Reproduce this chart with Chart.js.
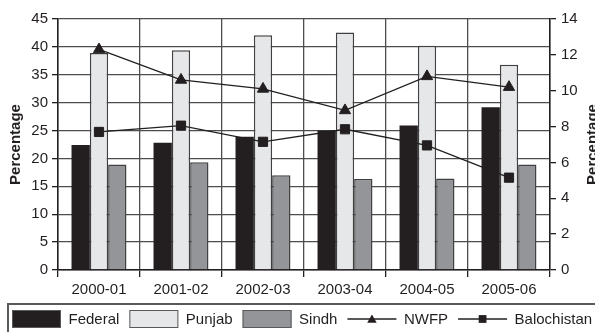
<!DOCTYPE html>
<html>
<head>
<meta charset="utf-8">
<script src="https://cdn.jsdelivr.net/npm/chart.js@4"></script>
<style>
  body { margin: 0; background: #fff; }
  #wrap { width: 595px; height: 332px; position: relative; }
</style>
</head>
<body>
<div id="wrap"><canvas id="chart"></canvas></div>
<script>
// Datos
const years = ['2000-01', '2001-02', '2002-03', '2003-04', '2004-05', '2005-06'];
const federal = [22.4, 22.8, 23.9, 25.0, 25.9, 29.2];
const punjab = [38.9, 39.4, 42.1, 42.6, 40.2, 36.8];
const sindh = [18.9, 19.3, 17.0, 16.3, 16.4, 18.9];
const nwfp = [12.3, 10.6, 10.1, 8.9, 10.8, 10.2];
const balochistan = [7.7, 8.05, 7.15, 7.85, 6.95, 5.15];

const leftTicks = [0, 5, 10, 15, 20, 25, 30, 35, 40, 45];
const rightTicks = [0, 2, 4, 6, 8, 10, 12, 14];

const FONT = '"Liberation Sans", Arial, sans-serif';
const INK = '#231f20';
const GRID = '#4d4d4f';

// Leyenda dibujada a mano (cajas para barras, línea con marcador para series)
function drawMarker(ctx, style, x, y, r) {
    ctx.beginPath();
    if (style === 'triangle') {
        ctx.moveTo(x, y - r);
        ctx.lineTo(x + r * 0.866, y + r * 0.5);
        ctx.lineTo(x - r * 0.866, y + r * 0.5);
        ctx.closePath();
    } else {
        const s = r * Math.SQRT1_2;
        ctx.rect(x - s, y - s, s * 2, s * 2);
    }
    ctx.fill();
}

const legendBox = {
    id: 'legendBox',
    afterDraw(chart) {
        const ctx = chart.ctx;
        const top = chart.chartArea.bottom + 34;
        ctx.save();
        ctx.strokeStyle = '#58595b';
        ctx.lineWidth = 2;
        ctx.strokeRect(8, top, chart.width + 10, chart.height);

        ctx.font = '15px ' + FONT;
        ctx.textBaseline = 'middle';
        ctx.textAlign = 'left';
        const cy = top + 15;
        let x = 12;
        chart.data.datasets.forEach(ds => {
            if (ds.type === 'line') {
                ctx.strokeStyle = ds.borderColor;
                ctx.lineWidth = 1.3;
                ctx.beginPath();
                ctx.moveTo(x, cy);
                ctx.lineTo(x + 49, cy);
                ctx.stroke();
                ctx.fillStyle = ds.pointBackgroundColor;
                drawMarker(ctx, ds.pointStyle, x + 24.5, cy + (ds.pointStyle === 'triangle' ? 1 : 0), 5.5);
            } else {
                ctx.fillStyle = ds.backgroundColor;
                ctx.fillRect(x, cy - 9, 49, 18);
                ctx.strokeStyle = '#58595b';
                ctx.lineWidth = 1;
                ctx.strokeRect(x + 0.5, cy - 8.5, 48, 17);
            }
            x += 49 + 7.5;
            ctx.fillStyle = INK;
            ctx.fillText(ds.label, x, cy + 1);
            x += ctx.measureText(ds.label).width + 10;
        });

        // Título del eje derecho (se lee de abajo hacia arriba)
        const area = chart.chartArea;
        ctx.translate(593, (area.top + area.bottom) / 2);
        ctx.rotate(-Math.PI / 2);
        ctx.font = 'bold 15px ' + FONT;
        ctx.textAlign = 'center';
        ctx.fillText('Percentage', 0, 0);
        ctx.restore();
    }
};

const barBase = {
    categoryPercentage: 0.67,
    barPercentage: 1.0,
    yAxisID: 'y',
    order: 2
};

new Chart(document.getElementById('chart'), {
    type: 'bar',
    data: {
        labels: years,
        datasets: [
            { ...barBase, label: 'Federal', data: federal, backgroundColor: INK, borderColor: INK, borderWidth: 0 },
            { ...barBase, label: 'Punjab', data: punjab, backgroundColor: '#e6e7e8', borderColor: '#414042', borderWidth: 1.5 },
            { ...barBase, label: 'Sindh', data: sindh, backgroundColor: '#939598', borderColor: '#414042', borderWidth: 1.5 },
            {
                type: 'line', label: 'NWFP', data: nwfp, yAxisID: 'y1', order: 0,
                borderColor: INK, borderWidth: 1.3, pointStyle: 'triangle', pointRadius: 6.5,
                pointBackgroundColor: INK, pointBorderColor: INK, pointBorderWidth: 1, tension: 0
            },
            {
                type: 'line', label: 'Balochistan', data: balochistan, yAxisID: 'y1', order: 0,
                borderColor: INK, borderWidth: 1.3, pointStyle: 'rect', pointRadius: 6.5,
                pointBackgroundColor: INK, pointBorderColor: INK, pointBorderWidth: 1, tension: 0
            }
        ]
    },
    options: {
        responsive: true,
        maintainAspectRatio: false,
        devicePixelRatio: 1,
        animation: false,
        layout: { padding: { top: 19, bottom: 29, left: 0, right: 0 } },
        plugins: {
            legend: { display: false },
            tooltip: { enabled: false }
        },
        scales: {
            x: {
                afterFit: s => { s.height = 33; },
                grid: { offset: true, color: GRID, lineWidth: 1.3, tickLength: 7, tickColor: INK },
                border: { color: INK, width: 1.5 },
                ticks: { color: INK, font: { family: FONT, size: 15 }, padding: 4 }
            },
            y: {
                position: 'left',
                min: 0, max: 45,
                afterFit: s => { s.width = 58; },
                afterBuildTicks: s => { s.ticks = leftTicks.map(v => ({ value: v })); },
                grid: { color: GRID, lineWidth: 1.3, tickLength: 6, tickColor: INK },
                border: { color: INK, width: 1.5 },
                ticks: { color: INK, font: { family: FONT, size: 15 }, padding: 4 },
                title: {
                    display: true, text: 'Percentage', color: INK,
                    font: { family: FONT, size: 15, weight: 'bold' },
                    padding: { top: 7, bottom: 0 }
                }
            },
            y1: {
                position: 'right',
                min: 0, max: 14,
                afterFit: s => { s.width = 45; },
                afterBuildTicks: s => { s.ticks = rightTicks.map(v => ({ value: v })); },
                grid: { drawOnChartArea: false, tickLength: 6, tickColor: INK, lineWidth: 1.3 },
                border: { color: INK, width: 1.5 },
                ticks: { color: INK, font: { family: FONT, size: 15 }, padding: 5 }
            }
        }
    },
    plugins: [legendBox]
});
</script>
</body>
</html>
